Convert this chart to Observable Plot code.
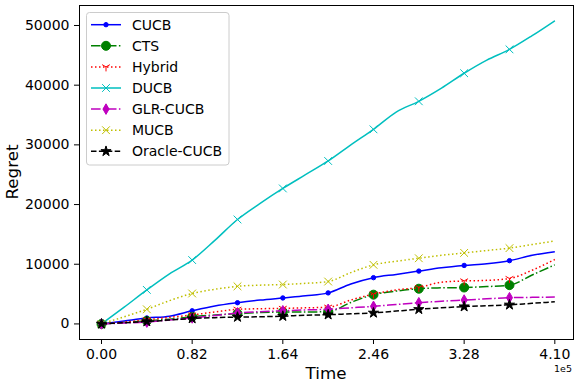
<!DOCTYPE html>
<html><head><meta charset="utf-8">
<script src="https://cdn.jsdelivr.net/npm/d3@7"></script>
<script src="https://cdn.jsdelivr.net/npm/@observablehq/plot@0.6"></script>
<style>body{margin:0;background:#fff} svg{display:block}</style>
</head><body><div id="chart"></div>
<script>
// ---- data ----
const times = [0,20500,41000,61500,82000,102500,123000,143500,164000,184500,205000,225500,246000,266500,287000,307500,328000,348500,369000,389500,410000];
const cucb   = [0,500,1000,1300,2200,3000,3550,4000,4350,4700,5200,6700,7750,8300,8850,9400,9800,10100,10600,11500,12100];
const cts    = [0,250,500,800,1200,1500,1700,1900,2000,2000,2050,3600,4900,5500,5900,6050,6100,6250,6500,8200,9900];
const hybrid = [0,300,700,1100,1500,2000,2450,2550,2600,2700,2800,4000,5000,5700,6100,7000,7200,7300,7600,9000,10800];
const ducb   = [0,2800,5700,8400,10700,14000,17500,20200,22700,25000,27300,30000,32600,35500,37300,39500,42000,44200,46000,48300,50800];
const glr    = [0,150,300,650,1000,1400,1850,2050,2200,2350,2450,2700,2950,3250,3550,3800,4000,4200,4400,4450,4500];
const mucb   = [0,1200,2450,3900,5100,5800,6300,6500,6600,6800,7100,8600,9900,10500,11000,11500,11900,12300,12700,13300,13900];
const oracle = [0,200,400,650,900,1050,1150,1200,1300,1450,1550,1700,1850,2150,2450,2700,2900,3050,3200,3450,3700];
const seriesNames = ["CUCB","CTS","Hybrid","DUCB","GLR-CUCB","MUCB","Oracle-CUCB"];
const seriesValues = [cucb, cts, hybrid, ducb, glr, mucb, oracle];
const xTicks = [0,82000,164000,246000,328000,410000];
const xTickLabels = ["0.00","0.82","1.64","2.46","3.28","4.10"];
const yTicks = [0,10000,20000,30000,40000,50000];

// ---- styles ----
const triDown = {draw(ctx, size){const r=Math.sqrt(size/Math.PI);
  ctx.moveTo(0,0); ctx.lineTo(0,r);
  ctx.moveTo(0,0); ctx.lineTo(r*0.866,-r*0.5);
  ctx.moveTo(0,0); ctx.lineTo(-r*0.866,-r*0.5);}};
const DASHDOT = "9.6,2.4,1.5,2.4", DOT = "1.5,2.5", DASH = "5.5,2.4";
const styles = [
  {color:"#0000ff", dash:null,    symbol:"circle",  r:2.2, filled:true},
  {color:"#008000", dash:DASHDOT, symbol:"circle",  r:4.5, filled:true},
  {color:"#ff0000", dash:DOT,     symbol:triDown,   r:4.5, filled:false},
  {color:"#00bfbf", dash:null,    symbol:"times",   r:3.6, filled:false},
  {color:"#bf00bf", dash:DASHDOT, symbol:"diamond", r:3.2, filled:true},
  {color:"#bfbf00", dash:DOT,     symbol:"times",   r:3.6, filled:false},
  {color:"#000000", dash:DASH,    symbol:"star",    r:3.2, filled:true}
];

const marks = [];
seriesNames.forEach((name, k) => {
  const s = styles[k];
  const rows = times.map((t, i) => ({t, v: seriesValues[k][i]}));
  marks.push(Plot.line(rows, {x:"t", y:"v", stroke:s.color, strokeWidth:1.5,
    strokeDasharray:s.dash, strokeLinecap:"butt", curve:"monotone-x"}));
  marks.push(Plot.dot(rows.filter((d, i) => i % 2 === 0 && d.t < 410000),
    {x:"t", y:"v", symbol:s.symbol, r:s.r, fill:s.filled ? s.color : "none", stroke:s.color, strokeWidth:1}));
});
marks.push(Plot.frame({stroke:"black", strokeWidth:1}));

const chart = Plot.plot({
  width:581, height:385,
  marginLeft:79, marginRight:8, marginTop:5, marginBottom:46,
  style:{fontFamily:"DejaVu Sans", fontSize:"14px", color:"black", background:"white"},
  x:{domain:[-19900,426900], ticks:xTicks, tickFormat:d => xTickLabels[xTicks.indexOf(d)], tickSize:5, tickPadding:5, label:null},
  y:{domain:[-2610,53350], ticks:yTicks, tickFormat:d3.format("d"), tickSize:5, tickPadding:5, label:null},
  marks
});
document.getElementById("chart").appendChild(chart);

// ---- axis labels, offset text, legend ----
const svg = d3.select(chart);
const F = "DejaVu Sans";
svg.append("text").attr("x",326).attr("y",379).attr("text-anchor","middle")
  .attr("font-family",F).attr("font-size",16.7).attr("fill","black").text("Time");
svg.append("text").attr("transform","translate(18,172) rotate(-90)").attr("text-anchor","middle")
  .attr("font-family",F).attr("font-size",16.7).attr("fill","black").text("Regret");
svg.append("text").attr("x",572).attr("y",372).attr("text-anchor","end")
  .attr("font-family",F).attr("font-size",9.5).attr("fill","black").text("1e5");

const lg = svg.append("g");
lg.append("rect").attr("x",86.5).attr("y",12.5).attr("width",142.5).attr("height",152.5).attr("rx",3)
  .attr("fill","white").attr("fill-opacity",0.8).attr("stroke","#cccccc").attr("stroke-width",1);
const symMap = {circle:d3.symbolCircle, times:d3.symbolTimes, diamond:d3.symbolDiamond, star:d3.symbolStar};
seriesNames.forEach((name, k) => {
  const s = styles[k];
  const y = 24.7 + k * 21.1;
  lg.append("line").attr("x1",91).attr("x2",121).attr("y1",y).attr("y2",y)
    .attr("stroke",s.color).attr("stroke-width",1.5).attr("stroke-dasharray",s.dash)
    .attr("stroke-linecap","butt");
  const type = typeof s.symbol === "string" ? symMap[s.symbol] : s.symbol;
  lg.append("path").attr("transform",`translate(106,${y})`)
    .attr("d", d3.symbol(type, s.r * s.r * Math.PI)())
    .attr("fill", s.filled ? s.color : "none").attr("stroke", s.color).attr("stroke-width",1);
  lg.append("text").attr("x",132).attr("y",y).attr("dy","0.36em").attr("text-anchor","start")
    .attr("font-family",F).attr("font-size",14).attr("fill","black").text(name);
});
</script>
</body></html>
